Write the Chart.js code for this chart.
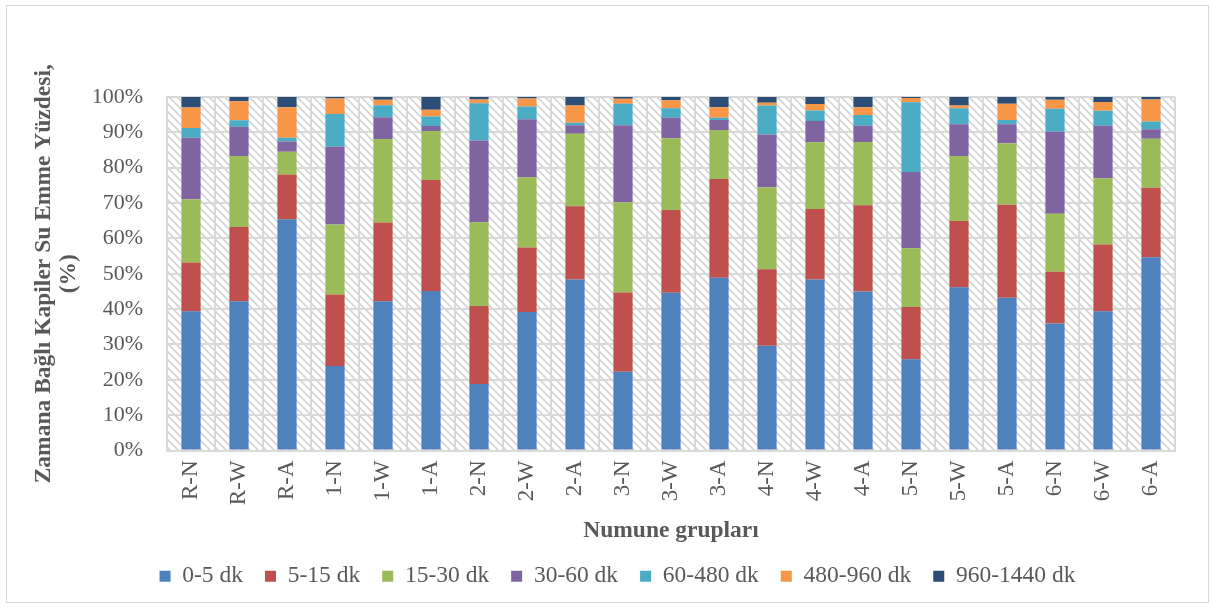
<!DOCTYPE html>
<html>
<head>
<meta charset="utf-8">
<script src="https://cdn.jsdelivr.net/npm/chart.js@4/dist/chart.umd.min.js"></script>
<style>
  html, body { margin: 0; padding: 0; background: #fff; overflow: hidden; }
  #wrap { position: absolute; left: 0; top: 0; width: 1215px; height: 608px; overflow: hidden; background: #fff; }
  #frame { position: absolute; left: 6px; top: 5px; width: 1201px; height: 596px; border: 1px solid #d9d9d9; pointer-events: none; }
  canvas { display: block; position: absolute; left: 0; top: 0; }
</style>
</head>
<body>
<div id="wrap"><canvas id="c" width="1215" height="598"></canvas><div id="frame"></div></div>
<script>
const categories = ["R-N","R-W","R-A","1-N","1-W","1-A","2-N","2-W","2-A","3-N","3-W","3-A","4-N","4-W","4-A","5-N","5-W","5-A","6-N","6-W","6-A"];
const seriesNames = ["0-5 dk","5-15 dk","15-30 dk","30-60 dk","60-480 dk","480-960 dk","960-1440 dk"];
const s0_5     = [39.4,42.2,65.4,23.9,42.2,45.1,18.8,39.2,48.4,22.3,44.6,48.9,29.6,48.4,45.0,25.8,46.2,43.2,35.9,39.4,54.7];
const s5_15    = [13.8,21.0,12.7,20.2,22.3,31.4,22.1,18.2,20.7,22.4,23.4,27.9,21.7,19.9,24.4,14.8,18.7,26.3,14.7,18.9,19.6];
const s15_30   = [17.9,20.1, 6.4,19.8,23.6,13.9,23.7,19.9,20.5,25.5,20.3,13.9,23.2,18.9,17.9,16.6,18.4,17.4,16.4,18.7,13.9];
const s30_60   = [17.4, 8.3, 2.9,22.0, 6.2, 1.4,23.1,16.4, 2.4,21.8, 5.8, 2.8,14.9, 6.0, 4.6,21.6, 9.0, 5.4,23.2,14.9, 2.7];
const s60_480  = [ 2.7, 1.8, 1.1, 9.3, 3.4, 2.7,10.5, 3.6, 0.7, 6.1, 2.7, 0.6, 8.2, 3.0, 3.0,19.7, 4.5, 1.2, 6.5, 4.2, 2.2];
const s480_960 = [ 5.8, 5.4, 8.6, 4.4, 1.5, 1.9, 1.1, 2.3, 4.9, 1.4, 2.3, 3.0, 0.8, 1.8, 2.2, 1.2, 0.8, 4.6, 2.5, 2.5, 6.2];
const s960_1440= [ 3.0, 1.2, 2.9, 0.4, 0.8, 3.6, 0.7, 0.4, 2.4, 0.5, 0.9, 2.9, 1.6, 2.0, 2.9, 0.3, 2.4, 1.9, 0.8, 1.4, 0.7];
const yTicks = [0,10,20,30,40,50,60,70,80,90,100];

const seriesData = [s0_5, s5_15, s15_30, s30_60, s60_480, s480_960, s960_1440];
const colors = ["#4F81BD","#C0504D","#9BBB59","#8064A2","#4BACC6","#F79646","#2C4D75"];
const TXT = "#595959";
const FONT = "'Liberation Serif','Times New Roman',serif";

function makePattern(ctx) {
  const p = document.createElement('canvas');
  p.width = 8; p.height = 8;
  const g = p.getContext('2d');
  g.fillStyle = '#ffffff';
  g.fillRect(0,0,8,8);
  g.strokeStyle = '#d4d4d4';
  g.lineWidth = 1.6;
  g.beginPath();
  g.moveTo(-2,-2); g.lineTo(10,10);
  g.moveTo(-10,-2); g.lineTo(2,10);
  g.moveTo(6,-2); g.lineTo(18,10);
  g.stroke();
  return ctx.createPattern(p, 'repeat');
}

const bgPlugin = {
  id: 'bg',
  beforeDraw(chart) {
    const ctx = chart.ctx;
    const a = chart.chartArea;
    ctx.save();
    ctx.fillStyle = '#fff';
    ctx.fillRect(0,0,chart.width,chart.height);
    ctx.fillStyle = makePattern(ctx);
    ctx.fillRect(a.left, a.top, a.right - a.left, a.bottom - a.top);
    ctx.restore();
  }
};

new Chart(document.getElementById('c'), {
  type: 'bar',
  data: {
    labels: categories,
    datasets: seriesNames.map((n, i) => ({
      label: n,
      data: seriesData[i],
      backgroundColor: colors[i],
      borderWidth: 0,
      barPercentage: 0.4,
      categoryPercentage: 1.0
    }))
  },
  options: {
    responsive: false,
    animation: false,
    layout: { padding: { left: 30, right: 10, top: 97, bottom: 0 } },
    plugins: {
      tooltip: { enabled: false },
      legend: {
        position: 'bottom',
        labels: {
          color: TXT,
          font: { family: FONT, size: 23.5 },
          boxWidth: 11,
          boxHeight: 11,
          padding: 22
        }
      }
    },
    scales: {
      x: {
        stacked: true,
        grid: { color: '#d9d9d9', lineWidth: 2, drawTicks: false, offset: true },
        border: { color: '#d9d9d9', width: 2 },
        ticks: {
          color: TXT,
          font: { family: FONT, size: 23 },
          minRotation: 90, maxRotation: 90,
          padding: 10,
          autoSkip: false
        },
        title: {
          display: true,
          text: 'Numune grupları',
          color: TXT,
          font: { family: FONT, size: 23.5, weight: 'bold', lineHeight: 1.0 },
          padding: { top: 0, bottom: 0 }
        },
        afterFit(s) { s.height = 92; }
      },
      y: {
        stacked: true,
        min: 0, max: 100,
        grid: { color: '#d9d9d9', lineWidth: 2, drawTicks: false },
        border: { color: '#d9d9d9', width: 2 },
        afterBuildTicks(s) { s.ticks = yTicks.map(v => ({ value: v })); },
        ticks: {
          color: TXT,
          font: { family: FONT, size: 22 },
          padding: 24,
          callback: v => v + '%'
        },
        title: {
          display: true,
          text: ['Zamana Bağlı Kapiler Su Emme Yüzdesi,', '(%)'],
          color: TXT,
          font: { family: FONT, size: 23.5, weight: 'bold', lineHeight: 1.05 },
          padding: { top: 2, bottom: 0 }
        },
        afterFit(s) { s.width = 137; }
      },
      yPad: {
        position: 'right',
        display: true,
        min: 0, max: 1,
        grid: { display: false, drawTicks: false },
        border: { display: false },
        ticks: { display: false },
        afterFit(s) { s.width = 30; }
      }
    }
  },
  plugins: [bgPlugin]
});
</script>
</body>
</html>
